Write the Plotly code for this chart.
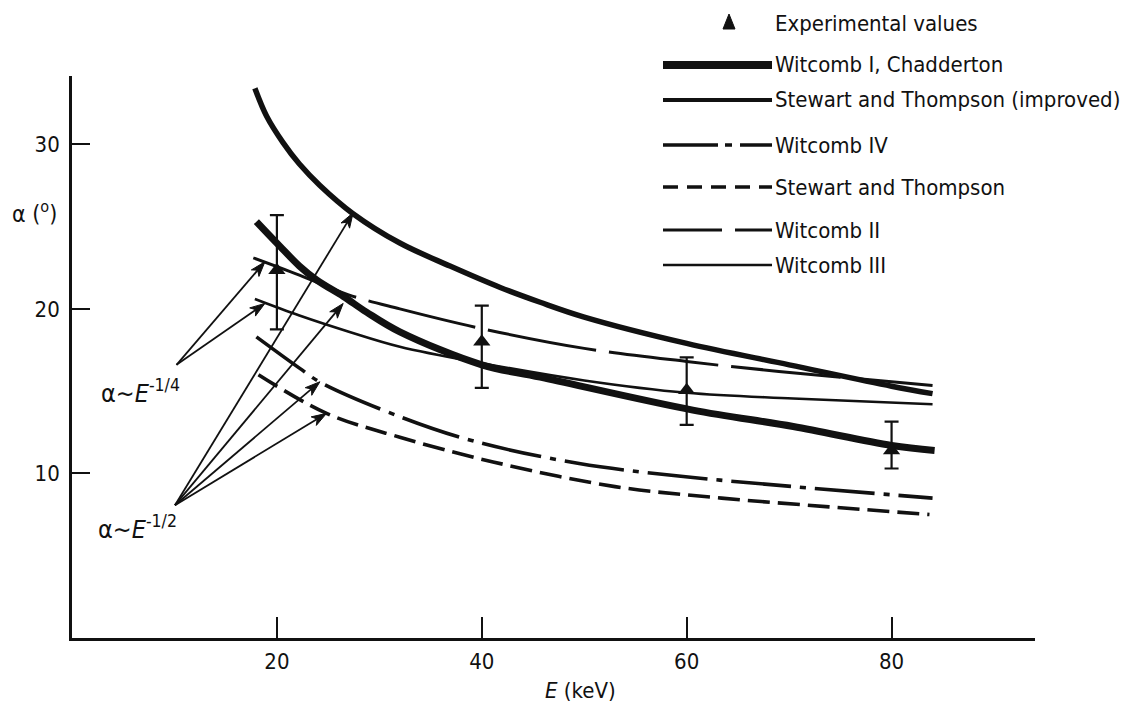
import math
import plotly.graph_objects as go

# ---------------- data ----------------
E_exp = [20, 40, 60, 80]
alpha_exp = [22.35, 18.0, 15.05, 11.4]
err_plus = [3.35, 2.2, 2.0, 1.75]
err_minus = [3.6, 2.8, 2.1, 1.1]

E_w1 = [18.0, 20.3, 22.2, 23.9, 26.5, 28.75, 32.0, 40.0, 45.7, 60.6, 70.4, 80.0, 84.2]
a_w1 = [25.3, 23.8, 22.6, 21.75, 20.75, 19.8, 18.6, 16.6, 15.85, 13.85, 12.85, 11.7, 11.4]

E_sti = [17.85, 19.0, 20.6, 22.2, 24.2, 27.4, 32.0, 36.9, 41.8, 45.7, 50.0, 60.0, 70.0, 80.0, 84.0]
a_sti = [33.4, 31.7, 30.1, 28.8, 27.5, 25.8, 24.0, 22.6, 21.3, 20.4, 19.5, 17.9, 16.6, 15.3, 14.85]

E_w4 = [18.0, 22.2, 24.2, 32.0, 39.0, 49.5, 59.9, 70.4, 84.0]
a_w4 = [18.3, 16.4, 15.55, 13.45, 12.0, 10.6, 9.8, 9.2, 8.5]

E_st = [18.2, 24.85, 32.0, 41.1, 53.0, 63.4, 73.9, 83.7]
a_st = [16.0, 13.65, 12.2, 10.7, 9.2, 8.5, 7.97, 7.5]

E_w2 = [17.7, 22.2, 27.0, 32.0, 40.0, 50.0, 60.0, 69.0, 84.0]
a_w2 = [23.1, 22.05, 20.85, 20.0, 18.8, 17.6, 16.8, 16.2, 15.35]

E_w3 = [17.85, 22.2, 27.1, 32.0, 40.0, 50.0, 60.0, 70.4, 84.0]
a_w3 = [20.6, 19.6, 18.6, 17.7, 16.7, 15.65, 14.9, 14.55, 14.2]

x_ticks = [20, 40, 60, 80]
y_ticks = [10, 20, 30]

legend_labels = ["Experimental values", "Witcomb I, Chadderton",
                 "Stewart and Thompson (improved)", "Witcomb IV",
                 "Stewart and Thompson", "Witcomb II", "Witcomb III"]

# arrow tails / tips (data coordinates)
arrows_quarter_tail = (10.2, 16.6)
arrows_quarter_tips = [(18.83, 22.86), (18.83, 20.33)]
arrows_half_tail = (10.05, 8.07)
arrows_half_tips = [(27.44, 25.84), (26.47, 20.33), (24.2, 15.57), (24.85, 13.65)]

# ---------------- layout geometry (page pixels) ----------------
BODY = 8                      # default page margin of the html body
W, H = 1129 - BODY, 708 - BODY
PL, PR, PT, PB = 72, 1035, 76, 638   # plot area on the page
X_MAX = 94.0
Y_MAX = 34.15
FONT = "DejaVu Sans Condensed, DejaVu Sans, sans-serif"
BLACK = "#111111"


def pxx(px):
    return (px - PL) / (PR - PL)


def pyy(py):
    return (PB - py) / (PB - PT)


def to_px(x, y):
    return PL + x / X_MAX * (PR - PL), PB - y / Y_MAX * (PB - PT)


def to_data(px, py):
    return (px - PL) / (PR - PL) * X_MAX, (PB - py) / (PB - PT) * Y_MAX


fig = go.Figure()

curve_styles = [
    (E_sti, a_sti, dict(width=5.5, dash="solid")),
    (E_w1, a_w1, dict(width=7, dash="solid")),
    (E_w2, a_w2, dict(width=3, dash="110px,13px")),
    (E_w3, a_w3, dict(width=2.6, dash="solid")),
    (E_w4, a_w4, dict(width=3.6, dash="60px,9px,6px,9px")),
    (E_st, a_st, dict(width=3.6, dash="22px,8px")),
]
for xs, ys, st in curve_styles:
    fig.add_trace(go.Scatter(x=xs, y=ys, mode="lines",
                             line=dict(color=BLACK, shape="spline", smoothing=1.0, **st),
                             showlegend=False, hoverinfo="skip"))

fig.add_trace(go.Scatter(
    x=E_exp, y=alpha_exp, mode="markers",
    marker=dict(symbol="triangle-up", size=15, color=BLACK),
    error_y=dict(type="data", array=err_plus, arrayminus=err_minus,
                 color=BLACK, thickness=2.2, width=7),
    showlegend=False, hoverinfo="skip"))

shapes = []
annotations = []

# ---------------- arrows drawn as shapes ----------------
HEAD_L, HEAD_W, NOTCH = 15, 5, 4
for tail, tips in [(arrows_quarter_tail, arrows_quarter_tips),
                   (arrows_half_tail, arrows_half_tips)]:
    for tip in tips:
        tx, ty = to_px(*tail)
        hx, hy = to_px(*tip)
        d = math.hypot(hx - tx, hy - ty)
        ux, uy = (hx - tx) / d, (hy - ty) / d
        nx, ny = -uy, ux
        bx, by = hx - ux * HEAD_L, hy - uy * HEAD_L
        mx, my = hx - ux * (HEAD_L - NOTCH), hy - uy * (HEAD_L - NOTCH)
        lx0, ly0 = to_data(tx, ty)
        lx1, ly1 = to_data(mx, my)
        shapes.append(dict(type="line", xref="x", yref="y", x0=lx0, y0=ly0,
                           x1=lx1, y1=ly1, line=dict(color=BLACK, width=1.8)))
        pts = [(hx, hy), (bx + nx * HEAD_W, by + ny * HEAD_W), (mx, my),
               (bx - nx * HEAD_W, by - ny * HEAD_W)]
        pts = [to_data(*p) for p in pts]
        path = "M " + " L ".join("{:.4f} {:.4f}".format(a, b) for a, b in pts) + " Z"
        shapes.append(dict(type="path", xref="x", yref="y", path=path,
                           fillcolor=BLACK, line=dict(color=BLACK, width=1)))

annotations.append(dict(x=pxx(99), y=pyy(391), xref="paper", yref="paper",
                        text="α∼<i>E</i><sup>-1/4</sup>", showarrow=False,
                        xanchor="left", yanchor="middle",
                        font=dict(family=FONT, size=25, color=BLACK)))
annotations.append(dict(x=pxx(96), y=pyy(527), xref="paper", yref="paper",
                        text="α∼<i>E</i><sup>-1/2</sup>", showarrow=False,
                        xanchor="left", yanchor="middle",
                        font=dict(family=FONT, size=25, color=BLACK)))

# axis titles (placed where the reference has them)
annotations.append(dict(x=pxx(580), y=pyy(690), xref="paper", yref="paper",
                        text="<i>E</i> (keV)", showarrow=False,
                        xanchor="center", yanchor="middle",
                        font=dict(family=FONT, size=22, color=BLACK)))
annotations.append(dict(x=pxx(34), y=pyy(212), xref="paper", yref="paper",
                        text="α (<sup>o</sup>)", showarrow=False,
                        xanchor="center", yanchor="middle",
                        font=dict(family=FONT, size=23, color=BLACK)))

# ---------------- hand-drawn legend ----------------
legend_rows_y = [23, 65, 100, 145, 187, 230, 265]
legend_line_styles = [
    None,
    dict(width=8, dash="solid"),
    dict(width=4, dash="solid"),
    dict(width=3.5, dash="55px,7px,7px,8px"),
    dict(width=3.5, dash="15px,9px"),
    dict(width=3, dash="59px,13px"),
    dict(width=2.6, dash="solid"),
]
for label, ry, st in zip(legend_labels, legend_rows_y, legend_line_styles):
    annotations.append(dict(x=pxx(773), y=pyy(ry), xref="paper", yref="paper",
                            text=label, showarrow=False, xanchor="left",
                            yanchor="middle",
                            font=dict(family=FONT, size=22, color=BLACK)))
    if st is None:
        cx, cy = 729, ry - 1
        path = "M {} {} L {} {} L {} {} Z".format(
            pxx(cx - 6), pyy(cy + 7), pxx(cx + 6), pyy(cy + 7), pxx(cx), pyy(cy - 8))
        shapes.append(dict(type="path", path=path, xref="paper", yref="paper",
                           fillcolor=BLACK, line=dict(color=BLACK, width=1)))
    else:
        shapes.append(dict(type="line", xref="paper", yref="paper",
                           x0=pxx(663), x1=pxx(772), y0=pyy(ry), y1=pyy(ry),
                           line=dict(color=BLACK, **st)))

fig.update_layout(
    width=W, height=H, autosize=False,
    margin=dict(l=PL - BODY, r=W - (PR - BODY), t=PT - BODY, b=H - (PB - BODY), pad=0),
    paper_bgcolor="white", plot_bgcolor="white",
    font=dict(family=FONT, size=22, color=BLACK),
    showlegend=False,
    annotations=annotations, shapes=shapes,
    xaxis=dict(range=[0, X_MAX], tickvals=x_ticks, ticktext=[str(v) for v in x_ticks],
               ticks="inside", ticklen=21, tickwidth=2, tickcolor=BLACK,
               showline=True, linewidth=2.6, linecolor=BLACK, mirror=False,
               showgrid=False, zeroline=False, ticklabelstandoff=2,
               tickfont=dict(family=FONT, size=22, color=BLACK)),
    yaxis=dict(range=[0, Y_MAX], tickvals=y_ticks, ticktext=[str(v) for v in y_ticks],
               ticks="inside", ticklen=18, tickwidth=2, tickcolor=BLACK,
               showline=True, linewidth=2.6, linecolor=BLACK, mirror=False,
               showgrid=False, zeroline=False, ticklabelstandoff=5,
               tickfont=dict(family=FONT, size=22, color=BLACK)),
)

fig.write_html("out.html")
